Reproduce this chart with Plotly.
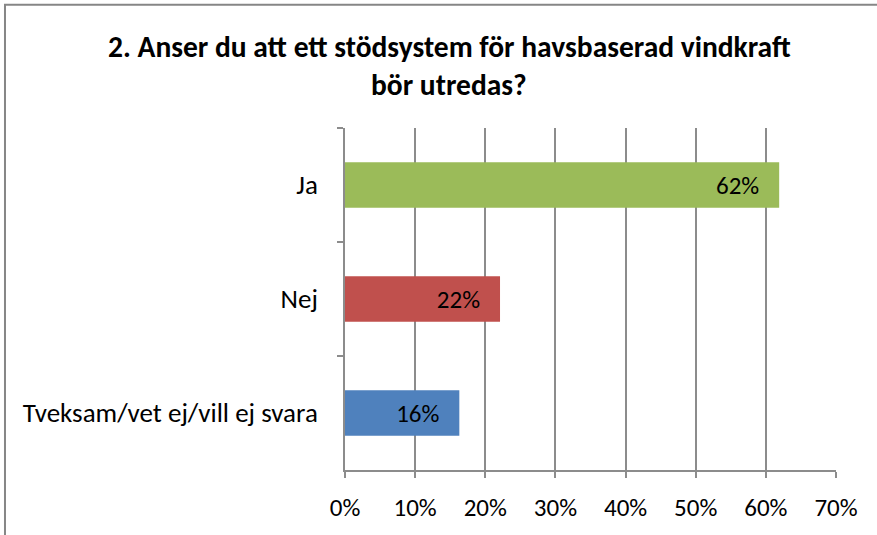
import plotly.graph_objects as go

# survey answers (share of respondents)
categories = ["Ja", "Nej", "Tveksam/vet ej/vill ej svara"]
values = [0.619, 0.221, 0.163]
colors = ["#9BBB59", "#C0504D", "#4F81BD"]

title_line1 = "2. Anser du att ett stödsystem för havsbaserad vindkraft"
title_line2 = "bör utredas?"

FONT = "Calibri, Carlito, Lato, sans-serif"
GRID = "#8c8c8c"
NBSP = "\u00a0"

fig = go.Figure()

fig.add_trace(go.Bar(
    y=categories,
    x=values,
    orientation="h",
    marker=dict(color=colors, line=dict(width=0)),
    texttemplate="%{x:.0%}" + NBSP * 3,
    textposition="inside",
    insidetextanchor="end",
    textfont=dict(family=FONT, size=25, color="black"),
    hoverinfo="skip",
))

fig.update_layout(
    width=877,
    height=535,
    margin=dict(l=345, r=41, t=128, b=63),
    paper_bgcolor="white",
    plot_bgcolor="white",
    showlegend=False,
    bargap=0.6,
    font=dict(family=FONT, size=25, color="black"),
)

fig.update_xaxes(
    range=[0, 0.7],
    dtick=0.1,
    tickformat=".0%",
    showgrid=True,
    gridcolor=GRID,
    gridwidth=1.5,
    zeroline=False,
    showline=True,
    linecolor=GRID,
    linewidth=1.5,
    ticks="outside",
    ticklen=6,
    tickcolor=GRID,
    tickwidth=1.5,
    ticklabelstandoff=8,
    tickfont=dict(family=FONT, size=25),
)

fig.update_yaxes(
    autorange="reversed",
    showgrid=False,
    showline=True,
    linecolor=GRID,
    linewidth=1.5,
    ticks="outside",
    tickson="boundaries",
    ticklen=6,
    tickcolor=GRID,
    tickwidth=1.5,
    ticklabelstandoff=20,
    tickfont=dict(family=FONT, size=27),
)

# two-line bold title, spaced like the original
fig.add_annotation(text="<b>" + title_line1 + "</b>", xref="paper", yref="paper",
                   x=0.212, y=1.2355, xanchor="center", yanchor="middle", showarrow=False,
                   font=dict(family=FONT, size=29.5, color="black"))
fig.add_annotation(text="<b>" + title_line2 + "</b>", xref="paper", yref="paper",
                   x=0.212, y=1.125, xanchor="center", yanchor="middle", showarrow=False,
                   font=dict(family=FONT, size=29.5, color="black"))

# chart border (only top and left edges visible in the frame)
fig.add_shape(type="rect", xref="paper", yref="paper",
              x0=-0.6925, y0=-0.5, x1=1.3, y1=1.3605,
              line=dict(color="#868686", width=2))

# drop the default page margin so the figure sits at the window corner
fig.write_html("out.html", config={"displayModeBar": False},
               post_script="document.body.style.margin = '0px';")
